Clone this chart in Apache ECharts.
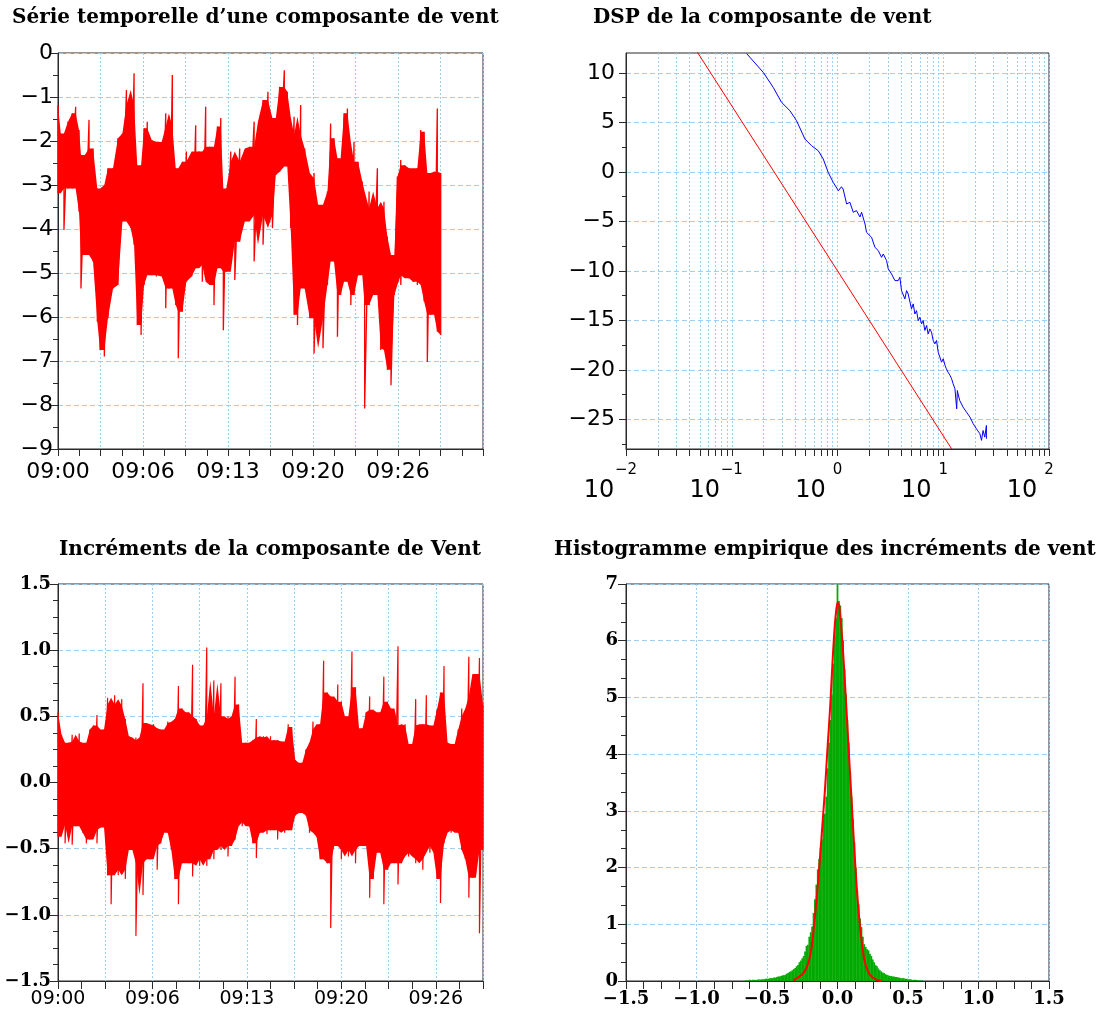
<!DOCTYPE html>
<html>
<head>
<meta charset="utf-8">
<script src="https://cdn.jsdelivr.net/npm/echarts@6/dist/echarts.min.js"></script>
<style>
  html, body { margin: 0; padding: 0; background: #ffffff; }
  #chart { width: 1104px; height: 1011px; }
</style>
</head>
<body>
<div id="chart"></div>
<script>
// ---- Wind component time series: per-column high / low envelope (seconds after 09:00) ----
const tlTime = [0,13,28,47,67,83,99,108,126,146,165,185,198,218,235,259,282,303,322,342,
  358,373,391,405,420,441,463,488,507,522,538,554,566,585,604,629,648,664,679,695,
  714,734,750,766,778,792,813,832,855,879,902,923,941,965,988,1009,1025,1043,1065,1079,
  1095,1111,1127,1142,1161,1185,1205,1224,1247,1268,1283,1299,1315,1330,1346,1362,1378,1393,1412,1432,
  1443,1464,1483,1503,1519,1534,1550,1567,1583,1597,1613,1632,1652,1671,1691,1707,1723,1738,1754,1770,
  1785,1801];
const tlHigh = [-1.18,-1.83,-1.86,-1.56,-1.37,-1.22,-1.75,-2.32,-2.77,-1.52,
  -2.17,-3.08,-3.30,-3.00,-2.62,-2.62,-1.94,-1.83,-0.84,-1.18,
  -0.46,-2.55,-3.08,-1.71,-1.56,-1.98,-3.08,-2.02,-1.37,-1.67,
  -0.50,-2.62,-2.77,-2.47,-2.24,-2.55,-1.64,-2.24,-2.55,-1.22,
  -2.13,-2.55,-1.67,-1.48,-3.38,-3.08,-2.24,-2.47,-2.17,-2.51,
  -2.13,-1.56,-2.39,-1.07,-0.88,-1.48,-1.86,-0.77,-0.39,-0.88,
  -1.86,-1.45,-1.86,-1.18,-2.17,-2.85,-2.73,-3.45,-3.49,-3.15,
  -1.60,-1.94,-2.39,-2.55,-1.37,-1.26,-2.92,-2.02,-2.47,-2.92,
  -4.21,-3.15,-3.53,-2.62,-3.53,-3.38,-4.17,-4.59,-4.59,-2.81,
  -2.43,-2.55,-2.62,-3.08,-2.62,-1.75,-1.79,-2.92,-2.73,-2.70,
  -1.26,-2.73];
const tlLow = [-3.19,-3.00,-4.02,-3.08,-3.08,-2.92,-3.61,-5.35,-4.59,-4.52,
  -4.74,-6.11,-6.75,-6.90,-6.03,-5.35,-5.27,-3.83,-3.61,-3.98,
  -4.36,-6.18,-6.41,-5.27,-4.82,-5.05,-5.08,-4.67,-5.80,-5.35,
  -5.05,-5.73,-6.94,-5.88,-5.20,-5.08,-4.89,-4.82,-5.20,-4.59,
  -5.27,-5.73,-4.89,-4.59,-6.30,-4.97,-4.29,-5.16,-4.29,-3.83,
  -3.68,-4.74,-3.53,-4.36,-3.68,-3.98,-2.77,-2.70,-2.55,-2.58,
  -3.98,-5.95,-6.18,-4.97,-5.35,-6.03,-6.83,-6.03,-6.71,-5.27,
  -4.59,-4.74,-6.45,-5.50,-4.97,-5.20,-5.73,-5.50,-5.05,-4.52,
  -8.08,-5.73,-5.50,-5.05,-6.75,-6.71,-7.20,-7.55,-5.50,-4.89,
  -5.27,-5.05,-5.12,-5.20,-5.27,-4.89,-5.65,-7.02,-5.95,-5.80,
  -6.33,-6.41];

// time-axis tick labels
const timeLabelSecs = [0, 400, 800, 1200, 1600];
const timeLabels = ['09:00', '09:06', '09:13', '09:20', '09:26'];

// ---- Increments: per-column high / low envelope, one column every incStep seconds ----
const incStep = 15;
const incHigh = [0.53,0.36,0.22,0.30,0.36,0.31,0.37,0.27,0.30,0.40,
  0.43,0.51,0.38,0.40,0.64,0.59,0.66,0.58,0.63,0.48,
  0.35,0.32,0.34,0.26,0.75,0.45,0.43,0.44,0.41,0.40,
  0.32,0.46,0.45,0.48,0.73,0.56,0.53,0.50,0.89,0.48,
  0.43,0.43,1.02,0.49,0.77,0.50,0.75,0.45,0.50,0.48,
  0.80,0.59,0.29,0.30,0.30,0.32,0.48,0.34,0.35,0.29,
  0.35,0.32,0.32,0.31,0.30,0.44,0.42,0.17,0.14,0.15,
  0.25,0.30,0.46,0.40,0.44,0.92,0.68,0.65,0.49,0.74,
  0.61,0.50,0.44,0.99,0.72,0.40,0.41,0.53,0.65,0.55,
  0.50,0.53,0.80,0.61,0.56,0.43,1.03,0.43,0.44,0.27,
  0.29,0.63,0.43,0.44,0.66,0.43,0.40,0.55,0.68,0.88,
  0.30,0.27,0.29,0.40,0.56,0.50,0.95,0.65,0.82,0.94,
  0.59];
const incLow = [-0.41,-0.22,-0.46,-0.32,-0.47,-0.33,-0.30,-0.38,-0.46,-0.43,
  -0.36,-0.46,-0.34,-0.33,-0.70,-0.92,-0.66,-0.70,-0.66,-0.73,
  -0.51,-0.46,-1.16,-0.61,-0.85,-0.58,-0.58,-0.48,-0.66,-0.46,
  -0.33,-0.38,-0.51,-0.73,-0.92,-0.61,-0.56,-0.61,-0.71,-0.56,
  -0.63,-0.58,-0.63,-0.51,-0.58,-0.48,-0.51,-0.48,-0.56,-0.48,
  -0.43,-0.30,-0.33,-0.30,-0.33,-0.46,-0.57,-0.38,-0.36,-0.39,
  -0.36,-0.36,-0.43,-0.36,-0.38,-0.36,-0.36,-0.25,-0.23,-0.20,
  -0.25,-0.38,-0.36,-0.41,-0.58,-0.58,-0.61,-1.10,-0.48,-0.46,
  -0.58,-0.51,-0.56,-0.51,-0.61,-0.48,-0.46,-0.48,-0.87,-0.73,
  -0.51,-0.53,-0.92,-0.66,-0.61,-0.48,-0.77,-0.61,-0.51,-0.56,
  -0.53,-0.61,-0.58,-0.66,-0.48,-0.53,-0.46,-0.73,-0.91,-0.46,
  -0.36,-0.38,-0.36,-0.38,-0.51,-0.58,-0.87,-0.72,-0.51,-1.14,
  -0.51];

// ---- Power spectral density (dB) against frequency (Hz) ----
const dspFreq = [0.138,0.199,0.247,0.296,0.355,0.410,0.492,0.569,0.658,0.733,
  0.817,0.911,1.02,1.09,1.13,1.22,1.31,1.41,1.51,1.63,
  1.69,1.82,1.88,2.10,2.26,2.43,2.61,2.71,2.81,2.91,
  3.02,3.24,3.36,3.49,3.75,3.89,4.03,4.34,4.50,4.66,
  5.01,5.20,5.39,5.59,5.80,6.01,6.23,6.46,6.70,6.95,
  7.20,7.47,7.75,8.03,8.33,8.64,8.96,9.29,9.63,9.99,
  10.4,10.7,11.1,11.6,12.0,12.4,12.9,13.4,13.6,13.8,
  14.3,14.9,15.4,16.0,16.6,17.2,17.9,18.5,19.2,19.9,
  20.6,21.4,22.2,23.0,23.8,24.7,25.6,25.6];
const dspLevel = [11.95,10.03,8.52,7.01,6.17,5.16,3.31,2.63,2.13,1.29,
  -0.06,-1.07,-1.91,-1.51,-1.74,-3.25,-3.08,-4.09,-3.92,-4.56,
  -4.09,-5.27,-6.11,-6.62,-7.63,-7.96,-8.64,-8.30,-8.47,-8.97,
  -9.81,-10.31,-10.14,-10.99,-10.99,-10.65,-12.0,-12.84,-12.0,-12.34,
  -13.85,-13.34,-14.36,-14.02,-15.03,-14.69,-15.36,-15.03,-16.03,-15.53,
  -16.37,-15.87,-16.20,-17.04,-17.38,-17.04,-18.22,-18.72,-19.23,-18.89,
  -19.56,-19.90,-20.24,-20.57,-20.91,-21.41,-21.92,-23.94,-22.09,-22.42,
  -23.09,-22.93,-23.77,-23.60,-24.28,-24.11,-24.78,-24.61,-25.45,-25.29,
  -25.96,-25.79,-26.46,-27.13,-26.13,-26.80,-25.62,-26.96];
// -5/3 reference slope, given by its two end points
const refFreq = [0.01, 100];
const refLevel = [23.33, -43.33];
// DSP y-axis ticks
const dspMajor = [-25, -20, -15, -10, -5, 0, 5, 10];
const dspMinor = [-27.5, -22.5, -17.5, -12.5, -7.5, -2.5, 2.5, 7.5];

// ---- Empirical histogram of increments (density per 0.01 bin) ----
const histStart = -0.65;
const histBin = 0.01;
const histDensity = [0.01,0.01,0.01,0.02,0.01,0.02,0.02,0.02,0.02,0.03,
  0.02,0.03,0.03,0.03,0.04,0.04,0.04,0.05,0.05,0.05,
  0.06,0.06,0.07,0.08,0.08,0.09,0.10,0.10,0.11,0.13,
  0.14,0.16,0.17,0.19,0.21,0.23,0.26,0.28,0.33,0.36,
  0.40,0.44,0.52,0.62,0.64,0.78,0.86,0.96,1.20,1.44,
  1.70,1.97,2.15,2.35,2.50,2.85,2.95,3.25,3.75,4.20,
  4.60,5.05,5.60,6.10,6.40,
  7.40,
  6.70,6.62,6.40,6.00,5.50,5.05,4.60,4.20,3.70,3.25,
  2.85,2.45,2.00,1.60,1.35,1.10,0.95,0.78,0.65,0.60,
  0.56,0.54,0.48,0.44,0.38,0.33,0.28,0.26,0.22,0.19,
  0.17,0.15,0.14,0.12,0.11,0.10,0.09,0.09,0.08,0.08,
  0.07,0.07,0.06,0.06,0.05,0.05,0.05,0.04,0.04,0.03,
  0.03,0.03,0.02,0.02,0.02,0.02,0.01,0.01,0.01,0.01];
// fitted curve
const fitX = [-0.313,-0.242,-0.207,-0.183,-0.160,-0.136,-0.113,-0.089,-0.070,-0.053,
  -0.037,-0.023,-0.011,0.001,0.012,0.028,0.046,0.065,0.082,0.101,
  0.117,0.136,0.155,0.176,0.195,0.230,0.278,0.313];
const fitY = [0.01,0.14,0.32,0.61,1.14,1.79,2.55,3.37,4.14,4.79,
  5.55,6.14,6.49,6.68,6.61,6.20,5.55,4.73,3.96,3.14,
  2.43,1.67,1.08,0.61,0.32,0.11,0.02,0.0];

// ---- styling helpers ----
const SANS = 'DejaVu Sans';
const SERIF = 'DejaVu Serif';
const FRAME = '#2a2a2a';
const GRIDC = '#9ccff5';
const RED = '#ff0000';
const hDash = { show: true, lineStyle: { color: GRIDC, width: 1, type: [5, 3] } };
const vDot = { show: true, lineStyle: { color: GRIDC, width: 1, type: [2, 2] } };
const axLine = { show: true, onZero: false, lineStyle: { color: FRAME, width: 1 } };
const noLine = { show: false, onZero: false };
const tick = len => ({ show: true, inside: false, length: len, lineStyle: { color: FRAME, width: 1 } });
const minus = s => String(s).replace('-', '\u2212');
const timeFmt = v => { const i = timeLabelSecs.indexOf(v); return i >= 0 ? timeLabels[i] : ''; };
const fixed1 = v => minus(Number(v).toFixed(1));

// envelope columns drawn as a vertical zig-zag (high then low at each column)
function envelope(ts, hi, lo) {
  const out = [];
  for (let i = 0; i < ts.length; i++) { out.push([ts[i], hi[i]]); out.push([ts[i], lo[i]]); }
  return out;
}
// edge of the densely covered core: median of a column and its two neighbours
function coreEdge(arr) {
  return arr.map((v, i) => {
    const w = [arr[Math.max(0, i - 1)], v, arr[Math.min(arr.length - 1, i + 1)]].sort((a, b) => a - b);
    return w[1];
  });
}
// filled core band; isolated peaks stay as thin strokes of the zig-zag
function bandSeries(xi, yi, ts, hi, lo) {
  const top = coreEdge(hi);
  const bottom = coreEdge(lo);
  return {
    type: 'custom', xAxisIndex: xi, yAxisIndex: yi, silent: true,
    data: [[ts[0], hi[0]]],
    renderItem: (params, api) => {
      const pts = [];
      for (let i = 0; i < ts.length; i++) pts.push(api.coord([ts[i], top[i]]));
      for (let i = ts.length - 1; i >= 0; i--) pts.push(api.coord([ts[i], bottom[i]]));
      return { type: 'polygon', shape: { points: pts }, style: { fill: RED, stroke: null } };
    }
  };
}
const incTime = incHigh.map((_, k) => k * incStep);
const histCenters = histDensity.map((_, i) => +(histStart + i * histBin).toFixed(3));

// log-decade sub-divisions for the frequency grid
const logGrid = [];
for (let n = -2; n <= 1; n++) for (let k = 1; k <= 9; k++) logGrid.push(n + Math.log10(k));
logGrid.push(2);

const titleStyle = { fontFamily: SERIF, fontWeight: 'bold', fontSize: 20, color: '#000' };
const gridBase = { show: true, borderColor: FRAME, borderWidth: 1, backgroundColor: 'transparent', containLabel: false, outerBoundsMode: 'none' };

const chart = echarts.init(document.getElementById('chart'), null, { renderer: 'canvas' });
chart.setOption({
  animation: false,
  backgroundColor: '#ffffff',
  textStyle: { fontFamily: SANS },
  title: [
    { text: 'Série temporelle d’une composante de vent', left: 12, top: 8, padding: 0, textStyle: titleStyle },
    { text: 'DSP de la composante de vent', left: 593, top: 8, padding: 0, textStyle: titleStyle },
    { text: 'Incréments de la composante de Vent', left: 59, top: 540, padding: 0, textStyle: titleStyle },
    { text: 'Histogramme empirique des incréments de vent', left: 554, top: 540, padding: 0, textStyle: titleStyle }
  ],
  grid: [
    Object.assign({ left: 58, top: 53, width: 425, height: 396 }, gridBase),
    Object.assign({ left: 626, top: 53, width: 423, height: 396 }, gridBase),
    Object.assign({ left: 58, top: 584, width: 425, height: 397 }, gridBase),
    Object.assign({ left: 626, top: 584, width: 423, height: 397 }, gridBase)
  ],
  xAxis: [
    { gridIndex: 0, type: 'value', min: 0, max: 2000, interval: 200,
      axisLine: axLine, axisTick: tick(7),
      minorTick: { show: true, splitNumber: 2, length: 7, lineStyle: { color: FRAME } },
      axisLabel: { customValues: timeLabelSecs, formatter: timeFmt, margin: 12,
        fontFamily: SANS, fontSize: 22, color: '#000' },
      splitLine: vDot },
    { gridIndex: 1, type: 'log', logBase: 10, min: 0.01, max: 100,
      axisLine: axLine, axisTick: { show: false }, splitLine: { show: false },
      axisLabel: {
        margin: 12, color: '#000', align: 'center', verticalAlign: 'top',
        formatter: v => '{e|' + minus(Math.round(Math.log10(v))) + '}\n{b|10}',
        rich: {
          e: { fontFamily: SANS, fontSize: 15, lineHeight: 18, align: 'center', color: '#000' },
          b: { fontFamily: SANS, fontSize: 24, lineHeight: 24, align: 'center', color: '#000', padding: [0, 54, 0, 0] }
        }
      } },
    { gridIndex: 1, type: 'value', min: -2, max: 2, position: 'bottom',
      axisLine: noLine, axisLabel: { show: false },
      axisTick: Object.assign(tick(7), { customValues: logGrid }),
      splitLine: vDot },
    { gridIndex: 2, type: 'value', min: 0, max: 1800, interval: 200,
      axisLine: axLine, axisTick: tick(8),
      minorTick: { show: true, splitNumber: 2, length: 8, lineStyle: { color: FRAME } },
      axisLabel: { customValues: timeLabelSecs, formatter: timeFmt, margin: 9,
        fontFamily: SANS, fontSize: 19, color: '#000' },
      splitLine: vDot },
    { gridIndex: 3, type: 'value', min: -1.5, max: 1.5, interval: 0.5,
      axisLine: axLine, axisTick: tick(8),
      minorTick: { show: true, splitNumber: 4, length: 8, lineStyle: { color: FRAME } },
      axisLabel: { formatter: fixed1, margin: 9, fontFamily: SERIF, fontWeight: 'bold', fontSize: 18, color: '#000' },
      splitLine: vDot }
  ],
  yAxis: [
    { gridIndex: 0, type: 'value', min: -9, max: 0, interval: 1,
      axisLine: axLine, axisTick: tick(8),
      minorTick: { show: true, splitNumber: 2, length: 5, lineStyle: { color: FRAME } },
      axisLabel: { formatter: v => minus(v), margin: 5, fontFamily: SANS, fontSize: 22, color: '#000' },
      splitLine: hDash },
    { gridIndex: 1, type: 'value', min: -28, max: 12,
      axisLine: axLine, axisTick: Object.assign(tick(7), { customValues: dspMajor }),
      axisLabel: { customValues: dspMajor, formatter: v => minus(v), margin: 11, fontFamily: SANS, fontSize: 22, color: '#000' },
      splitLine: hDash },
    { gridIndex: 1, type: 'value', min: -28, max: 12, position: 'left',
      axisLine: noLine, axisLabel: { show: false },
      axisTick: Object.assign(tick(4), { customValues: dspMinor }),
      splitLine: { show: false } },
    { gridIndex: 2, type: 'value', min: -1.5, max: 1.5, interval: 0.5,
      axisLine: axLine, axisTick: tick(8),
      minorTick: { show: true, splitNumber: 4, length: 5, lineStyle: { color: FRAME } },
      axisLabel: { formatter: fixed1, margin: 7, fontFamily: SERIF, fontWeight: 'bold', fontSize: 18, color: '#000' },
      splitLine: hDash },
    { gridIndex: 3, type: 'value', min: 0, max: 7, interval: 1,
      axisLine: axLine, axisTick: tick(8),
      minorTick: { show: true, splitNumber: 3, length: 5, lineStyle: { color: FRAME } },
      axisLabel: { margin: 8, fontFamily: SERIF, fontWeight: 'bold', fontSize: 18, color: '#000' },
      splitLine: hDash }
  ],
  series: [
    bandSeries(0, 0, tlTime, tlHigh, tlLow),
    { name: 'vent', type: 'line', xAxisIndex: 0, yAxisIndex: 0, silent: true,
      data: envelope(tlTime, tlHigh, tlLow), symbol: 'none', clip: true,
      lineStyle: { color: RED, width: 1.3 } },
    { name: 'DSP', type: 'line', xAxisIndex: 1, yAxisIndex: 1, silent: true,
      data: dspFreq.map((f, i) => [f, dspLevel[i]]), symbol: 'none', clip: true,
      lineStyle: { color: '#0000ff', width: 1 } },
    { name: 'pente -5/3', type: 'line', xAxisIndex: 1, yAxisIndex: 1, silent: true,
      data: refFreq.map((f, i) => [f, refLevel[i]]), symbol: 'none', clip: true,
      lineStyle: { color: RED, width: 1 } },
    bandSeries(3, 3, incTime, incHigh, incLow),
    { name: 'incréments', type: 'line', xAxisIndex: 3, yAxisIndex: 3, silent: true,
      data: envelope(incTime, incHigh, incLow), symbol: 'none', clip: true,
      lineStyle: { color: RED, width: 1.2 } },
    { name: 'histogramme', type: 'bar', xAxisIndex: 4, yAxisIndex: 4, silent: true,
      data: histCenters.map((c, i) => [c, histDensity[i]]), barWidth: '125%', clip: true,
      itemStyle: { color: '#00aa00' } },
    { name: 'ajustement', type: 'line', xAxisIndex: 4, yAxisIndex: 4, silent: true,
      data: fitX.map((x, i) => [x, fitY[i]]), symbol: 'none', smooth: 0.3, clip: true,
      lineStyle: { color: RED, width: 2 }, z: 5 }
  ]
});
</script>
</body>
</html>
